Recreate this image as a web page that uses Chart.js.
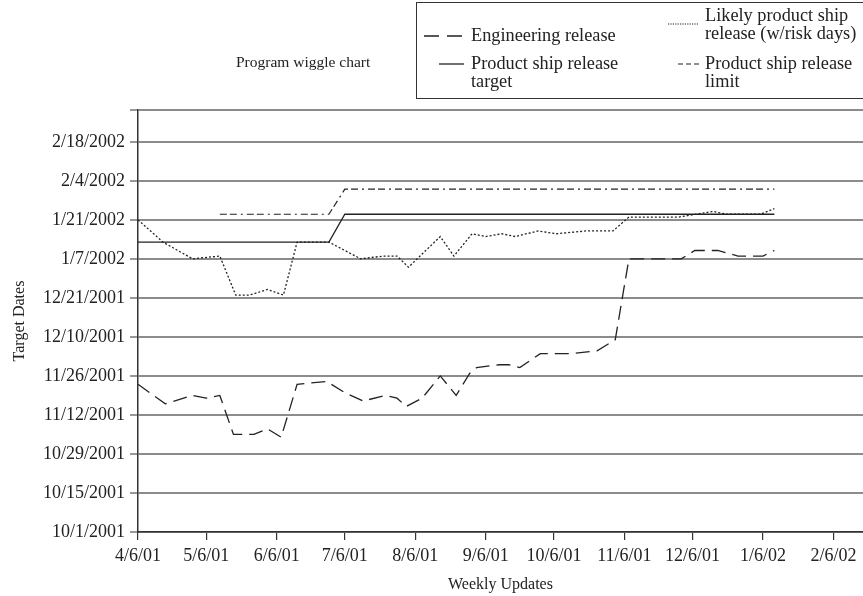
<!DOCTYPE html>
<html>
<head>
<meta charset="utf-8">
<script src="https://cdn.jsdelivr.net/npm/chart.js@4.4.1/dist/chart.umd.min.js"></script>
<style>
  body { margin: 0; background: #fff; }
  #wrap { position: relative; width: 863px; height: 596px; overflow: hidden; font-family: "Liberation Serif", serif; color: #222; }
  #title { position: absolute; left: 236px; top: 53px; font-size: 15.5px; white-space: nowrap; }
  #legend { position: absolute; left: 416px; top: 2px; width: 470px; height: 97px; border: 1.5px solid #333; box-sizing: border-box; }
  .item { position: absolute; font-size: 18.3px; line-height: 17.5px; white-space: nowrap; }
</style>
</head>
<body>
<div id="wrap">
  <canvas id="wiggle" width="863" height="596"></canvas>
  <div id="title">Program wiggle chart</div>
  <div id="legend">
    <div class="item" style="left:54px;top:24px">Engineering release</div>
    <div class="item" style="left:54px;top:52px">Product ship release<br>target</div>
    <div class="item" style="left:288px;top:4px">Likely product ship<br>release (w/risk days)</div>
    <div class="item" style="left:288px;top:52px">Product ship release<br>limit</div>
    <svg width="470" height="97" style="position:absolute;left:0;top:0">
      <line x1="7" y1="33" x2="47" y2="33" stroke="#222" stroke-width="1.3" stroke-dasharray="15,8"/>
      <line x1="22" y1="61" x2="47" y2="61" stroke="#222" stroke-width="1.3"/>
      <line x1="251" y1="21" x2="282" y2="21" stroke="#222" stroke-width="1" stroke-dasharray="1.2,1.2"/>
      <line x1="261" y1="61" x2="282" y2="61" stroke="#222" stroke-width="1.2" stroke-dasharray="5,3"/>
    </svg>
  </div>
</div>
<script>
// Ось X: дати тижневих оновлень, ось Y: цільові дати
const xTickLabels = ["4/6/01", "5/6/01", "6/6/01", "7/6/01", "8/6/01", "9/6/01", "10/6/01", "11/6/01", "12/6/01", "1/6/02", "2/6/02"];
const yTickLabels = ["10/1/2001", "10/15/2001", "10/29/2001", "11/12/2001", "11/26/2001", "12/10/2001", "12/21/2001", "1/7/2002", "1/21/2002", "2/4/2002", "2/18/2002"];

const engDates = ["4/6/01", "4/18/01", "4/30/01", "5/6/01", "5/12/01", "5/18/01", "5/27/01", "6/2/01", "6/8/01", "6/15/01", "6/28/01", "7/6/01", "7/14/01", "7/24/01", "7/29/01", "8/2/01", "8/9/01", "8/17/01", "8/24/01", "8/30/01", "9/2/01", "9/12/01", "9/16/01", "9/21/01", "9/30/01", "10/14/01", "10/25/01", "11/2/01", "11/8/01", "12/1/01", "12/7/01", "12/12/01", "12/17/01", "12/26/01", "1/6/02", "1/11/02"];
const engValues = ["11/23/2001", "11/16/2001", "11/19/2001", "11/18/2001", "11/19/2001", "11/5/2001", "11/5/2001", "11/7/2001", "11/4/2001", "11/23/2001", "11/24/2001", "11/20/2001", "11/17/2001", "11/19/2001", "11/18/2001", "11/15/2001", "11/18/2001", "11/26/2001", "11/19/2001", "11/27/2001", "11/29/2001", "11/30/2001", "11/30/2001", "11/29/2001", "12/4/2001", "12/4/2001", "12/5/2001", "12/9/2001", "1/7/2002", "1/7/2002", "1/10/2002", "1/10/2002", "1/10/2002", "1/8/2002", "1/8/2002", "1/10/2002"];

const likelyDates = ["4/6/01", "4/17/01", "4/30/01", "5/12/01", "5/19/01", "5/25/01", "6/2/01", "6/9/01", "6/15/01", "6/29/01", "7/13/01", "7/23/01", "7/29/01", "8/3/01", "8/17/01", "8/23/01", "8/31/01", "9/6/01", "9/13/01", "9/19/01", "9/29/01", "10/7/01", "10/20/01", "11/1/01", "11/8/01", "11/30/01", "12/15/01", "12/21/01", "1/5/02", "1/11/02"];
const likelyValues = ["1/21/2002", "1/13/2002", "1/7/2002", "1/8/2002", "12/25/2001", "12/25/2001", "12/27/2001", "12/25/2001", "1/13/2002", "1/13/2002", "1/7/2002", "1/8/2002", "1/8/2002", "1/4/2002", "1/15/2002", "1/8/2002", "1/16/2002", "1/15/2002", "1/16/2002", "1/15/2002", "1/17/2002", "1/16/2002", "1/17/2002", "1/17/2002", "1/22/2002", "1/22/2002", "1/24/2002", "1/23/2002", "1/23/2002", "1/25/2002"];

const targetDates = ["4/6/01", "6/29/01", "7/6/01", "1/11/02"];
const targetValues = ["1/13/2002", "1/13/2002", "1/23/2002", "1/23/2002"];

const limitDates = ["5/12/01", "6/29/01", "7/6/01", "1/11/02"];
const limitValues = ["1/23/2002", "1/23/2002", "2/1/2002", "2/1/2002"];

// дні від початку осі
function xDay(s) {
    const [m, d, y] = s.split("/").map(Number);
    return (Date.UTC(2000 + y, m - 1, d) - Date.UTC(2001, 3, 6)) / 864e5;
}
function yDay(s) {
    const [m, d, y] = s.split("/").map(Number);
    return (Date.UTC(y, m - 1, d) - Date.UTC(2001, 9, 1)) / 864e5;
}
function points(dates, values) {
    return dates.map((d, i) => ({ x: xDay(d), y: yDay(values[i]) }));
}

const ink = "#222";
const tickFont = { family: "'Liberation Serif', serif", size: 18 };
const titleFont = { family: "'Liberation Serif', serif", size: 16 };

new Chart(document.getElementById("wiggle"), {
    type: "line",
    data: {
        datasets: [
            { label: "Engineering release", data: points(engDates, engValues), borderDash: [14, 7], borderWidth: 1.3 },
            { label: "Likely product ship release (w/risk days)", data: points(likelyDates, likelyValues), borderDash: [2, 2], borderWidth: 1.3 },
            { label: "Product ship release target", data: points(targetDates, targetValues), borderWidth: 1.3 },
            { label: "Product ship release limit", data: points(limitDates, limitValues), borderDash: [7, 3, 7, 4, 2, 4], borderWidth: 1.2 }
        ].map(ds => Object.assign({ borderColor: ink, pointRadius: 0, tension: 0, fill: false }, ds))
    },
    options: {
        responsive: false,
        animation: false,
        layout: { padding: { top: 110, left: 0, right: 0, bottom: 0 } },
        plugins: { legend: { display: false }, tooltip: { enabled: false } },
        scales: {
            x: {
                type: "linear",
                min: 0,
                max: 319,
                afterBuildTicks: scale => { scale.ticks = xTickLabels.map(l => ({ value: xDay(l) })); },
                afterFit: scale => { scale.height = 64; },
                ticks: { color: ink, font: tickFont, padding: 5, maxRotation: 0, autoSkip: false, callback: (v, i) => xTickLabels[i] },
                grid: { drawOnChartArea: false, tickLength: 8, color: "#333", lineWidth: 1.2 },
                border: { color: "#333", width: 1.5 },
                title: { display: true, text: "Weekly Updates", color: ink, font: titleFont, padding: { top: 0, bottom: 2 } }
            },
            y: {
                type: "linear",
                min: 0,
                max: 151.4,
                afterBuildTicks: scale => {
                    scale.ticks = yTickLabels.map((l, i) => ({ value: i * 14 })).concat([{ value: 151.4 }]);
                },
                afterFit: scale => { scale.width = 138; },
                ticks: { color: ink, font: tickFont, padding: 5, autoSkip: false, callback: (v, i) => yTickLabels[i] || "" },
                grid: { color: "#8c8c8c", lineWidth: 2, tickLength: 8, tickColor: "#555", tickWidth: 1.2 },
                border: { color: "#333", width: 1.5 },
                title: { display: true, text: "Target Dates", color: ink, font: titleFont, padding: { top: 10, bottom: 0 } }
            }
        }
    }
});
</script>
</body>
</html>
